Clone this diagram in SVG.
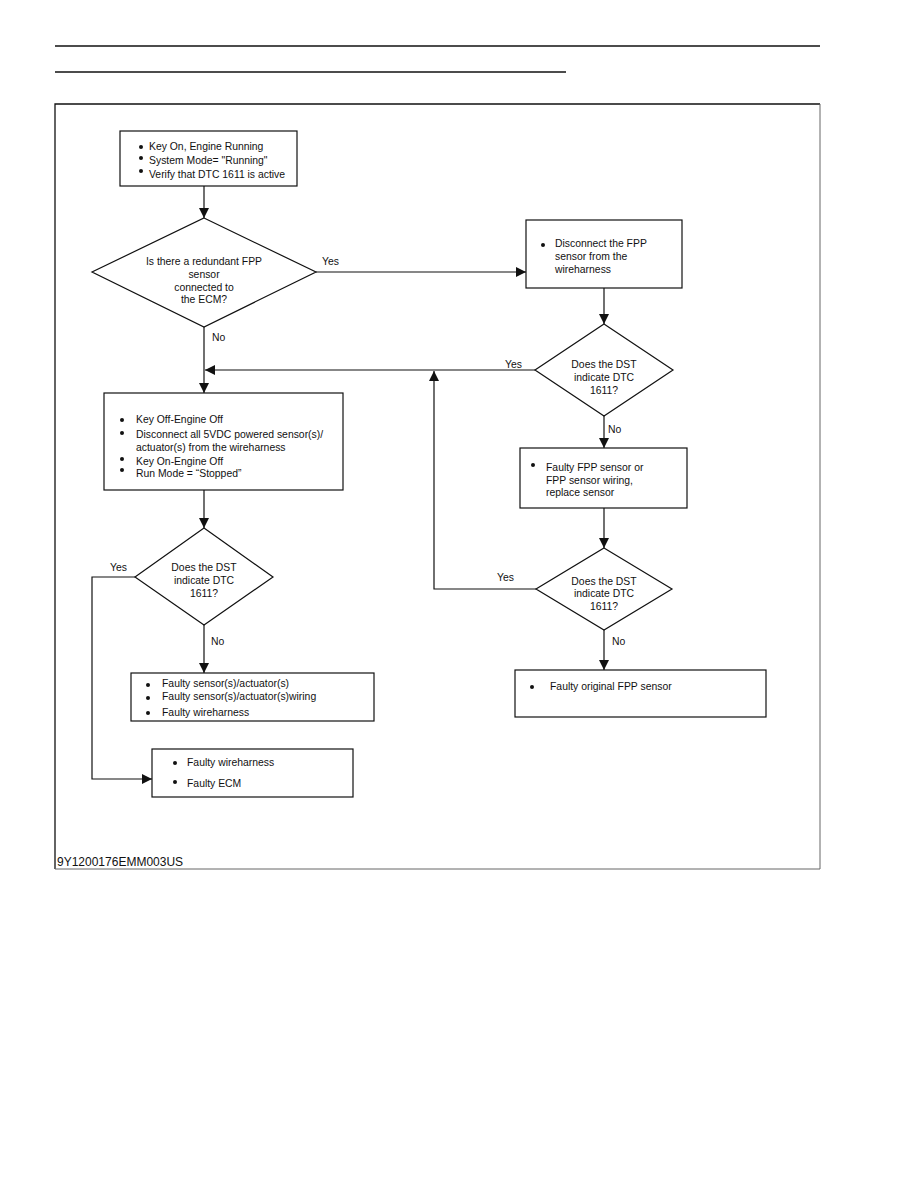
<svg xmlns="http://www.w3.org/2000/svg" width="918" height="1188" viewBox="0 0 918 1188">
<style>
text{font-family:"Liberation Sans",Arial,sans-serif;font-size:10.4px;fill:#111}
.c{text-anchor:middle}
.box{fill:#fff;stroke:#111;stroke-width:1.2}
.ln{fill:none;stroke:#111;stroke-width:1.2}
.b{fill:#111}
</style>
<defs>
<marker id="ar" viewBox="0 0 10 10" refX="10" refY="5" markerWidth="10" markerHeight="10" markerUnits="userSpaceOnUse" orient="auto">
<path d="M0,0 L10,5 L0,10 z" fill="#111"/>
</marker>
</defs>
<rect width="918" height="1188" fill="#fff"/>
<line x1="55" y1="46" x2="820" y2="46" stroke="#111" stroke-width="1.5"/>
<line x1="55" y1="72" x2="566" y2="72" stroke="#111" stroke-width="1.5"/>
<path d="M55,869 V104 H820" fill="none" stroke="#111" stroke-width="1.3"/>
<path d="M820,104 V869 H55" fill="none" stroke="#666" stroke-width="1"/>
<text x="57" y="866" style="font-size:12px">9Y1200176EMM003US</text>

<g id="connectors">
<line class="ln" x1="204" y1="186" x2="204" y2="218" marker-end="url(#ar)"/>
<line class="ln" x1="316" y1="272" x2="526" y2="272" marker-end="url(#ar)"/>
<line class="ln" x1="604" y1="288" x2="604" y2="324" marker-end="url(#ar)"/>
<line class="ln" x1="535" y1="370" x2="205" y2="370" marker-end="url(#ar)"/>
<line class="ln" x1="204" y1="327" x2="204" y2="393" marker-end="url(#ar)"/>
<line class="ln" x1="204" y1="490" x2="204" y2="528" marker-end="url(#ar)"/>
<polyline class="ln" points="135,577 92,577 92,779 152,779" marker-end="url(#ar)"/>
<line class="ln" x1="204" y1="625" x2="204" y2="673" marker-end="url(#ar)"/>
<line class="ln" x1="604" y1="416" x2="604" y2="448" marker-end="url(#ar)"/>
<line class="ln" x1="604" y1="508" x2="604" y2="548" marker-end="url(#ar)"/>
<polyline class="ln" points="536,589 434,589 434,371" marker-end="url(#ar)"/>
<line class="ln" x1="604" y1="630" x2="604" y2="670" marker-end="url(#ar)"/>
<text x="322" y="265">Yes</text>
<text x="505" y="368">Yes</text>
<text x="212" y="341">No</text>
<text x="110" y="571">Yes</text>
<text x="211" y="645">No</text>
<text x="608" y="433">No</text>
<text x="497" y="581">Yes</text>
<text x="612" y="645">No</text>
</g>

<g id="start">
<rect class="box" x="120" y="131" width="177" height="55"/>
<circle class="b" cx="141" cy="147" r="2"/><text x="149" y="150">Key On, Engine Running</text>
<circle class="b" cx="141" cy="158" r="2"/><text x="149" y="164">System Mode= "Running"</text>
<circle class="b" cx="141" cy="171" r="2"/><text x="149" y="178">Verify that DTC 1611 is active</text>
</g>

<g id="q1">
<polygon class="box" points="204,218 316,272 204,327 92,272"/>
<text class="c" x="204" y="265">Is there a redundant FPP</text>
<text class="c" x="204" y="278">sensor</text>
<text class="c" x="204" y="291">connected to</text>
<text class="c" x="204" y="303">the ECM?</text>
</g>

<g id="disconnect">
<rect class="box" x="526" y="220" width="156" height="68"/>
<circle class="b" cx="543" cy="245" r="2"/>
<text x="555" y="247">Disconnect the FPP</text>
<text x="555" y="260">sensor from the</text>
<text x="555" y="273">wireharness</text>
</g>

<g id="q2">
<polygon class="box" points="604,324 673,370 604,416 535,370"/>
<text class="c" x="604" y="368">Does the DST</text>
<text class="c" x="604" y="381">indicate DTC</text>
<text class="c" x="604" y="394">1611?</text>
</g>

<g id="keyoff">
<rect class="box" x="104" y="393" width="239" height="97"/>
<circle class="b" cx="122" cy="420" r="2"/><text x="136" y="423">Key Off-Engine Off</text>
<circle class="b" cx="122" cy="433" r="2"/><text x="136" y="438">Disconnect all 5VDC powered sensor(s)/</text>
<text x="136" y="451">actuator(s) from the wireharness</text>
<circle class="b" cx="122" cy="459" r="2"/><text x="136" y="465">Key On-Engine Off</text>
<circle class="b" cx="122" cy="470" r="2"/><text x="136" y="477">Run Mode = “Stopped”</text>
</g>

<g id="q3">
<polygon class="box" points="204,528 273,577 204,625 135,577"/>
<text class="c" x="204" y="571">Does the DST</text>
<text class="c" x="204" y="584">indicate DTC</text>
<text class="c" x="204" y="597">1611?</text>
</g>

<g id="faulty-sensors">
<rect class="box" x="131" y="673" width="243" height="48"/>
<circle class="b" cx="148" cy="685" r="2"/><text x="162" y="687">Faulty sensor(s)/actuator(s)</text>
<circle class="b" cx="148" cy="698" r="2"/><text x="162" y="700">Faulty sensor(s)/actuator(s)wiring</text>
<circle class="b" cx="148" cy="713" r="2"/><text x="162" y="716">Faulty wireharness</text>
</g>

<g id="faulty-ecm">
<rect class="box" x="152" y="749" width="201" height="48"/>
<circle class="b" cx="175" cy="763" r="2"/><text x="187" y="766">Faulty wireharness</text>
<circle class="b" cx="175" cy="782" r="2"/><text x="187" y="787">Faulty ECM</text>
</g>

<g id="faulty-fpp">
<rect class="box" x="520" y="448" width="167" height="60"/>
<circle class="b" cx="533" cy="465" r="2"/>
<text x="546" y="471">Faulty FPP sensor or</text>
<text x="546" y="484">FPP sensor wiring,</text>
<text x="546" y="496">replace sensor</text>
</g>

<g id="q4">
<polygon class="box" points="604,548 672,589 604,630 536,589"/>
<text class="c" x="604" y="585">Does the DST</text>
<text class="c" x="604" y="597">indicate DTC</text>
<text class="c" x="604" y="610">1611?</text>
</g>

<g id="faulty-original">
<rect class="box" x="515" y="670" width="251" height="47"/>
<circle class="b" cx="532" cy="687" r="2"/>
<text x="550" y="690">Faulty original FPP sensor</text>
</g>
</svg>
